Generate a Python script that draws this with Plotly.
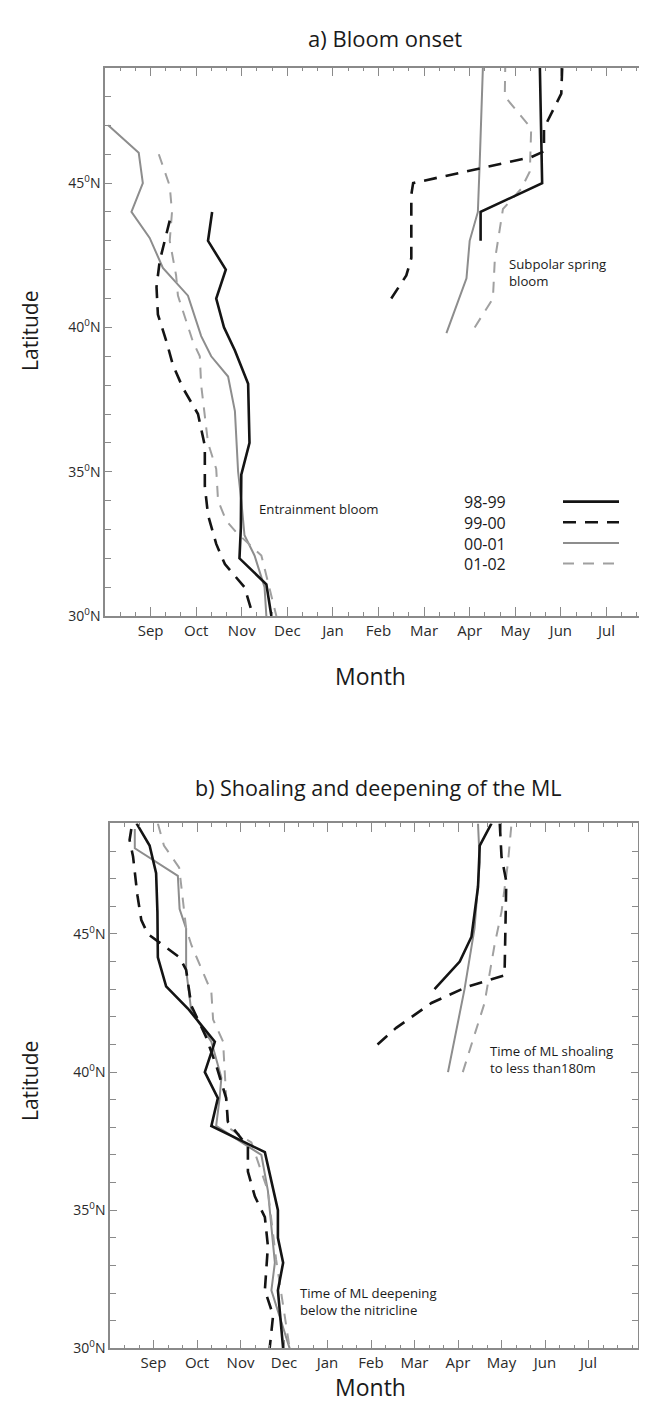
import plotly.graph_objects as go

W, H = 647, 1403

# ---------------- data ----------------
months = ["Sep", "Oct", "Nov", "Dec", "Jan", "Feb", "Mar", "Apr", "May", "Jun", "Jul"]
month_pos = [1, 2, 3, 4, 5, 6, 7, 8, 9, 10, 11]   # months after Aug 1
lat_ticks = [30, 35, 40, 45]
lat_labels = ["30<sup>0</sup>N", "35<sup>0</sup>N", "40<sup>0</sup>N", "45<sup>0</sup>N"]
series_names = ["98-99", "99-00", "00-01", "01-02"]

# a) Bloom onset
a_9899_aut_x = [2.35, 2.26, 2.65, 2.44, 2.61, 2.85, 3.14, 3.17, 2.99, 2.98, 2.95, 3.54, 3.65]
a_9899_aut_y = [44.0, 43.0, 42.0, 41.0, 40.0, 39.2, 38.05, 36.0, 34.9, 33.05, 32.0, 31.1, 30.0]
a_9899_spr_x = [8.24, 8.24, 9.59, 9.57, 9.54]
a_9899_spr_y = [43.0, 44.0, 45.0, 46.9, 49.0]

a_9900_aut_x = [1.42, 1.2, 1.13, 1.16, 1.35, 1.49, 1.71, 2.04, 2.19, 2.19, 2.26, 2.44, 2.63, 3.06, 3.25]
a_9900_aut_y = [43.7, 42.3, 41.4, 40.45, 39.5, 38.7, 37.9, 37.0, 35.9, 34.5, 33.5, 32.5, 31.8, 31.0, 30.0]
a_9900_spr_x = [6.28, 6.61, 6.72, 6.72, 6.76, 9.35, 9.63, 9.63, 10.01, 10.03]
a_9900_spr_y = [41.0, 41.8, 42.4, 44.6, 45.0, 45.9, 46.1, 46.9, 48.1, 49.0]

a_0001_aut_x = [0.07, 0.74, 0.83, 0.58, 0.98, 1.27, 1.82, 2.11, 2.33, 2.70, 2.85, 2.92, 2.99, 3.06, 3.28, 3.50, 3.54]
a_0001_aut_y = [47.0, 46.05, 45.0, 44.0, 43.1, 42.06, 41.1, 39.7, 39.0, 38.3, 37.1, 35.0, 34.0, 32.8, 32.1, 31.0, 30.0]
a_0001_spr_x = [7.49, 7.93, 8.0, 8.18, 8.22, 8.29]
a_0001_spr_y = [39.8, 41.7, 43.0, 44.0, 45.7, 49.0]

a_0102_aut_x = [1.18, 1.42, 1.47, 1.42, 1.56, 1.60, 1.93, 2.08, 2.11, 2.26, 2.44, 2.48, 2.66, 2.88, 3.43, 3.61, 3.76]
a_0102_aut_y = [46.0, 44.9, 44.0, 43.0, 41.8, 41.1, 39.5, 39.0, 38.0, 36.0, 35.1, 34.0, 33.3, 32.9, 32.1, 31.0, 30.0]
a_0102_spr_x = [8.11, 8.51, 8.55, 8.73, 9.13, 9.32, 9.35, 8.77, 8.78]
a_0102_spr_y = [40.0, 41.0, 42.3, 44.1, 44.8, 45.4, 46.9, 48.0, 49.0]

# b) Shoaling and deepening of the ML
b_9899_aut_x = [0.61, 0.91, 1.06, 1.09, 1.10, 1.29, 1.79, 2.41, 2.37, 2.18, 2.48, 2.33, 3.56, 3.71, 3.86, 3.86, 3.98, 3.86, 3.98]
b_9899_aut_y = [49.0, 48.2, 47.2, 45.8, 44.15, 43.1, 42.3, 41.1, 40.9, 40.0, 39.06, 38.05, 37.1, 36.0, 35.0, 34.0, 33.1, 32.1, 30.0]
b_9899_spr_x = [7.46, 8.04, 8.31, 8.46, 8.5, 8.77]
b_9899_spr_y = [43.0, 44.0, 44.9, 46.7, 48.2, 49.0]

b_9900_aut_x = [0.49, 0.45, 0.53, 0.63, 0.72, 0.87, 1.60, 1.75, 1.87, 2.2, 2.45, 2.67, 2.71, 3.17, 3.17, 3.33, 3.56, 3.63, 3.56, 3.75, 3.67]
b_9900_aut_y = [48.8, 48.4, 47.8, 46.4, 45.5, 45.0, 44.15, 43.7, 42.4, 41.3, 40.2, 39.06, 38.2, 37.3, 36.4, 35.5, 34.75, 33.7, 32.1, 31.2, 30.0]
b_9900_spr_x = [6.15, 6.58, 7.39, 8.23, 9.07, 9.09, 9.11, 9.0, 8.96]
b_9900_spr_y = [41.0, 41.6, 42.5, 43.1, 43.5, 45.2, 46.9, 47.8, 49.0]

b_0001_aut_x = [0.57, 0.57, 1.56, 1.60, 1.75, 1.75, 1.87, 2.33, 2.56, 2.52, 2.44, 3.48, 3.63, 3.79, 3.71, 4.13]
b_0001_aut_y = [48.8, 48.1, 47.1, 45.9, 45.2, 43.7, 42.2, 41.1, 39.8, 39.06, 38.05, 37.0, 35.7, 33.1, 32.1, 30.0]
b_0001_spr_x = [7.77, 8.15, 8.38, 8.5, 8.46]
b_0001_spr_y = [40.0, 43.0, 45.2, 47.6, 49.0]

b_0102_aut_x = [1.1, 1.24, 1.59, 1.75, 1.87, 2.18, 2.33, 2.37, 2.6, 2.62, 2.67, 2.71, 3.25, 3.63, 3.82, 4.02, 4.13]
b_0102_aut_y = [49.0, 48.2, 47.4, 45.2, 44.6, 43.5, 42.9, 41.9, 41.1, 40.5, 39.06, 38.0, 37.45, 35.7, 33.2, 31.2, 30.0]
b_0102_spr_x = [8.11, 8.61, 8.84, 9.0, 9.15, 9.23]
b_0102_spr_y = [40.0, 42.5, 44.6, 45.8, 47.6, 49.0]

# ---------------- styles ----------------
BLACK = "#141414"
GRAY_S = "#8d8d8d"
GRAY_D = "#a0a0a0"
styles = {
    "98-99": dict(color=BLACK, width=2.6, dash="solid"),
    "99-00": dict(color=BLACK, width=2.6, dash="13px,9px"),
    "00-01": dict(color=GRAY_S, width=2.0, dash="solid"),
    "01-02": dict(color=GRAY_D, width=2.0, dash="11px,9px"),
}

FONT = "Open Sans"
AXC = "#8a8a8a"
TXT = "#1a1a1a"


def px(x):
    return x / W


def py(y):
    return 1 - y / H


fig = go.Figure()

panel_a = {
    "98-99": [(a_9899_aut_x, a_9899_aut_y), (a_9899_spr_x, a_9899_spr_y)],
    "99-00": [(a_9900_aut_x, a_9900_aut_y), (a_9900_spr_x, a_9900_spr_y)],
    "00-01": [(a_0001_aut_x, a_0001_aut_y), (a_0001_spr_x, a_0001_spr_y)],
    "01-02": [(a_0102_aut_x, a_0102_aut_y), (a_0102_spr_x, a_0102_spr_y)],
}
panel_b = {
    "98-99": [(b_9899_aut_x, b_9899_aut_y), (b_9899_spr_x, b_9899_spr_y)],
    "99-00": [(b_9900_aut_x, b_9900_aut_y), (b_9900_spr_x, b_9900_spr_y)],
    "00-01": [(b_0001_aut_x, b_0001_aut_y), (b_0001_spr_x, b_0001_spr_y)],
    "01-02": [(b_0102_aut_x, b_0102_aut_y), (b_0102_spr_x, b_0102_spr_y)],
}

draw_order = ["00-01", "01-02", "99-00", "98-99"]
for panel, xa, ya in [(panel_a, "x", "y"), (panel_b, "x2", "y2")]:
    for name in draw_order:
        for xs, ys in panel[name]:
            fig.add_trace(go.Scatter(
                x=xs, y=ys, mode="lines", xaxis=xa, yaxis=ya,
                line=dict(**styles[name]), showlegend=False, hoverinfo="skip",
            ))

minor_x = [k / 3 for k in range(0, 38)]
minor_y = list(range(30, 50))


def xaxis(domain, xmax):
    return dict(
        domain=domain, range=[0, xmax], showgrid=False, zeroline=False,
        showline=True, linecolor=AXC, linewidth=1.5, mirror="ticks",
        tickvals=month_pos, ticktext=months, ticks="inside", ticklen=9,
        tickcolor=AXC, tickwidth=1.2,
        tickfont=dict(family=FONT, size=15, color="#2a2a2a"),
        minor=dict(tickvals=minor_x, ticks="inside", ticklen=4, tickcolor=AXC, tickwidth=1.2),
    )


def yaxis(domain, anchor):
    return dict(
        domain=domain, range=[30, 49], showgrid=False, zeroline=False, anchor=anchor,
        showline=True, linecolor=AXC, linewidth=1.5, mirror="ticks",
        tickvals=lat_ticks, ticktext=lat_labels, ticks="inside", ticklen=7,
        tickcolor=AXC, tickwidth=1.2,
        tickfont=dict(family=FONT, size=14, color="#2a2a2a"),
        minor=dict(tickvals=minor_y, ticks="inside", ticklen=6, tickcolor=AXC, tickwidth=1.2),
    )


B_LEFT, B_RIGHT, B_MONTH = 102, 630, 43.5
layout = dict(
    width=W, height=H, margin=dict(l=0, r=0, t=0, b=0),
    paper_bgcolor="white", plot_bgcolor="white", showlegend=False,
    xaxis=xaxis([px(97), px(644)], 12) | dict(anchor="y"),
    yaxis=yaxis([py(612), py(60)], "x"),
    xaxis2=xaxis([px(B_LEFT), px(B_RIGHT)], (B_RIGHT - B_LEFT) / B_MONTH) | dict(anchor="y2"),
    yaxis2=yaxis([py(1349), py(820.7)], "x2"),
)
fig.update_layout(**layout)

ann = []


def text(x, y, s, size, angle=0, xanchor="center", align="center"):
    ann.append(dict(x=px(x), y=py(y), xref="paper", yref="paper", text=s, showarrow=False,
                    font=dict(family=FONT, size=size, color=TXT), textangle=angle,
                    xanchor=xanchor, yanchor="middle", align=align))


text(377, 30, "a) Bloom onset", 22)
text(370, 785, "b) Shoaling and deepening of the ML", 21.5)
text(362, 672, "Month", 23)
text(362, 1388, "Month", 23)
text(22, 325, "Latitude", 21, angle=-90)
text(22, 1080, "Latitude", 21, angle=-90)
text(249, 504, "Entrainment bloom", 13.2, xanchor="left", align="left")
text(499, 266, "Subpolar spring<br>bloom", 13.2, xanchor="left", align="left")
text(480, 1058, "Time of ML shoaling<br>to less than180m", 13.2, xanchor="left", align="left")
text(290, 1302, "Time of ML deepening<br>below the nitricline", 13.2, xanchor="left", align="left")

# legend: one right-aligned text block, line samples to its right
LEG_FONT = 16
LEG_LINE = 1.3 * LEG_FONT
LEG_CENTER = 528
text(500, LEG_CENTER, "<br>".join(series_names), LEG_FONT, xanchor="right", align="right")
shapes = []
n = len(series_names)
for i, name in enumerate(series_names):
    yy = LEG_CENTER + (i - (n - 1) / 2) * LEG_LINE
    st = styles[name]
    shapes.append(dict(type="line", xref="paper", yref="paper",
                       x0=px(555), x1=px(611), y0=py(yy), y1=py(yy),
                       line=dict(color=st["color"], width=st["width"], dash=st["dash"])))

fig.update_layout(annotations=ann, shapes=shapes)
fig.write_html("out.html")
